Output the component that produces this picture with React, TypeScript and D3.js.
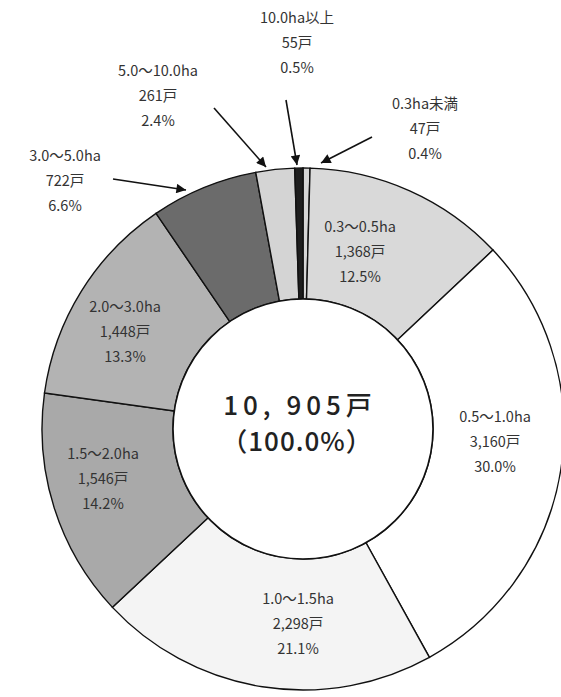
import React from "react";
import * as d3 from "d3";

const categories = ["0.3ha未満", "0.3～0.5ha", "0.5～1.0ha", "1.0～1.5ha", "1.5～2.0ha", "2.0～3.0ha", "3.0～5.0ha", "5.0～10.0ha", "10.0ha以上"];
const households = [47, 1368, 3160, 2298, 1546, 1448, 722, 261, 55];
const householdLabels = ["47戸", "1,368戸", "3,160戸", "2,298戸", "1,546戸", "1,448戸", "722戸", "261戸", "55戸"];
const percentLabels = ["0.4%", "12.5%", "30.0%", "21.1%", "14.2%", "13.3%", "6.6%", "2.4%", "0.5%"];
const totalLabel = "10, 905戸";
const totalPctLabel = "（100.0%）";

const fills = ["#d6d6d6", "#d9d9d9", "#ffffff", "#f4f4f4", "#a9a9a9", "#b3b3b3", "#6b6b6b", "#d4d4d4", "#1e1e1e"];

// label layout (centre of first line), and arrow for outside labels
const labelLayout = [
  { x: 425, y: 105, arrow: [372, 137, 321, 163] },
  { x: 360, y: 228 },
  { x: 495, y: 418 },
  { x: 298, y: 600 },
  { x: 103, y: 455 },
  { x: 125, y: 308 },
  { x: 65, y: 157, arrow: [113, 179, 186, 190] },
  { x: 158, y: 72, arrow: [214, 108, 266, 167] },
  { x: 297, y: 19, arrow: [286, 100, 297, 165] },
];

export default function App() {
  const W = 561, H = 697;
  const cx = 303, cy = 429, R = 261, r = 130;
  const pie = d3.pie<number>().sort(null).value((d) => d);
  const arcs = pie(households);
  const arcGen = d3.arc<d3.PieArcDatum<number>>().innerRadius(r).outerRadius(R);
  const lh = 25;
  const font = "'Noto Sans CJK JP', 'Noto Sans', sans-serif";
  return (
    <svg width={W} height={H} style={{ position: "absolute", left: 0, top: 0, background: "#fff" }}>
      <defs>
        <marker id="ah" viewBox="0 0 10 10" refX="10" refY="5" markerWidth="7" markerHeight="6" markerUnits="strokeWidth" orient="auto">
          <path d="M0,0 L10,5 L0,10 z" fill="#111" />
        </marker>
      </defs>
      <g transform={`translate(${cx},${cy})`}>
        {arcs.map((a, i) => (
          <path key={i} d={arcGen(a) || ""} fill={fills[i]} stroke="#111" strokeWidth={1.4} />
        ))}
        <circle r={r} fill="#fff" stroke="#111" strokeWidth={1.6} />
      </g>
      {labelLayout.map((l, i) => (
        <g key={i}>
          <text x={l.x} y={l.y} textAnchor="middle" dominantBaseline="middle" fontFamily={font} fontSize={14.5} fill="#333">
            <tspan x={l.x} dy={0}>{categories[i]}</tspan>
            <tspan x={l.x} dy={lh}>{householdLabels[i]}</tspan>
            <tspan x={l.x} dy={lh}>{percentLabels[i]}</tspan>
          </text>
          {l.arrow && (
            <line x1={l.arrow[0]} y1={l.arrow[1]} x2={l.arrow[2]} y2={l.arrow[3]} stroke="#111" strokeWidth={1.6} markerEnd="url(#ah)" />
          )}
        </g>
      ))}
      <text x={300} y={408} textAnchor="middle" dominantBaseline="middle" fontFamily={font} fontSize={26} fontWeight={500} letterSpacing={5} fill="#222">{totalLabel}</text>
      <text x={297} y={444} textAnchor="middle" dominantBaseline="middle" fontFamily={font} fontSize={26} fontWeight={500} letterSpacing={1} fill="#222">{totalPctLabel}</text>
    </svg>
  );
}
